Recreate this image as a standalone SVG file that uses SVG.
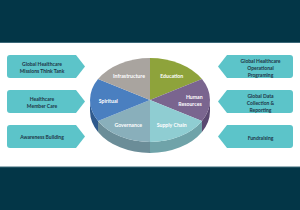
<svg xmlns="http://www.w3.org/2000/svg" width="300" height="210" viewBox="0 0 300 210">
<style>
.band{fill:#033647}
.bandline{stroke:#3b6878;stroke-width:1}
.box{fill:#5cc4c9}
.bt{font-family:Lato,"Liberation Sans",sans-serif;font-weight:700;font-size:5px;fill:#1c3547;text-anchor:middle}
.pt{font-family:Lato,"Liberation Sans",sans-serif;font-weight:700;font-size:5.2px;fill:#ffffff;text-anchor:middle}
</style>
<rect width="300" height="210" fill="#ffffff"/>
<rect class="band" x="0" y="0" width="300" height="42"/>
<line class="bandline" x1="0" y1="42.5" x2="300" y2="42.5"/>
<rect class="band" x="0" y="167" width="300" height="43"/>
<line class="bandline" x1="0" y1="167" x2="300" y2="167"/>

<g id="pie">
  <path d="M201.96,121 A60 42 0 0 1 150,142 L150,153 A60 42 0 0 0 201.96,132 Z" fill="#6fa3a9"/>
  <path d="M210,100 A60 42 0 0 1 201.96,121 L201.96,132 A60 42 0 0 0 210,111 Z" fill="#5a4870"/>
  <path d="M150,142 A60 42 0 0 1 98.04,121 L98.04,132 A60 42 0 0 0 150,153 Z" fill="#6b8d98"/>
  <path d="M98.04,121 A60 42 0 0 1 90,100 L90,111 A60 42 0 0 0 98.04,132 Z" fill="#2f5a8d"/>
  <path d="M150,100 L150,58 A60 42 0 0 1 201.96,79 Z" fill="#8ea33b"/>
  <path d="M150,100 L201.96,79 A60 42 0 0 1 201.96,121 Z" fill="#7a658f"/>
  <path d="M150,100 L201.96,121 A60 42 0 0 1 150,142 Z" fill="#8fcdd2"/>
  <path d="M150,100 L150,142 A60 42 0 0 1 98.04,121 Z" fill="#89afbb"/>
  <path d="M150,100 L98.04,121 A60 42 0 0 1 98.04,79 Z" fill="#4a7fc0"/>
  <path d="M150,100 L98.04,79 A60 42 0 0 1 150,58 Z" fill="#a9a49f"/>
  <text class="pt" x="129" y="77.5">Infrastructure</text>
  <text class="pt" x="171.7" y="77.5">Education</text>
  <text class="pt" x="194.3" y="99">Human</text>
  <text class="pt" x="190" y="106">Resources</text>
  <text class="pt" x="108.3" y="102.8">Spiritual</text>
  <text class="pt" x="128.3" y="126.8">Governance</text>
  <text class="pt" x="171.7" y="126.8">Supply Chain</text>
</g>

<g id="box-think-tank">
  <path class="box" d="M10,55 H76 L85,66.5 L76,78 H10 Q7,78 7,75 V58 Q7,55 10,55 Z"/>
  <text class="bt" x="42" y="65.8">Global Healthcare</text>
  <text class="bt" x="42" y="72.5">Missions Think Tank</text>
</g>
<g id="box-member-care">
  <path class="box" d="M10,90 H76 L85,101.5 L76,113 H10 Q7,113 7,110 V93 Q7,90 10,90 Z"/>
  <text class="bt" x="42" y="101">Healthcare</text>
  <text class="bt" x="42" y="108">Member Care</text>
</g>
<g id="box-awareness">
  <path class="box" d="M10,125 H76 L85,136.5 L76,148 H10 Q7,148 7,145 V128 Q7,125 10,125 Z"/>
  <text class="bt" x="42" y="139">Awareness Building</text>
</g>
<g id="box-operational">
  <path class="box" d="M290,55 H227 L218,66.5 L227,78 H290 Q293,78 293,75 V58 Q293,55 290,55 Z"/>
  <text class="bt" x="260.5" y="62.5">Global Healthcare</text>
  <text class="bt" x="260.5" y="69.7">Operational</text>
  <text class="bt" x="260.5" y="76.7">Programing</text>
</g>
<g id="box-data">
  <path class="box" d="M290,90 H227 L218,101.5 L227,113 H290 Q293,113 293,110 V93 Q293,90 290,90 Z"/>
  <text class="bt" x="260.5" y="98.4">Global Data</text>
  <text class="bt" x="260.5" y="105.4">Collection &amp;</text>
  <text class="bt" x="260.5" y="112">Reporting</text>
</g>
<g id="box-fundraising">
  <path class="box" d="M290,125 H227 L218,136.5 L227,148 H290 Q293,148 293,145 V128 Q293,125 290,125 Z"/>
  <text class="bt" x="260.5" y="139.7">Fundraising</text>
</g>
<g id="connectors"/>
</svg>
